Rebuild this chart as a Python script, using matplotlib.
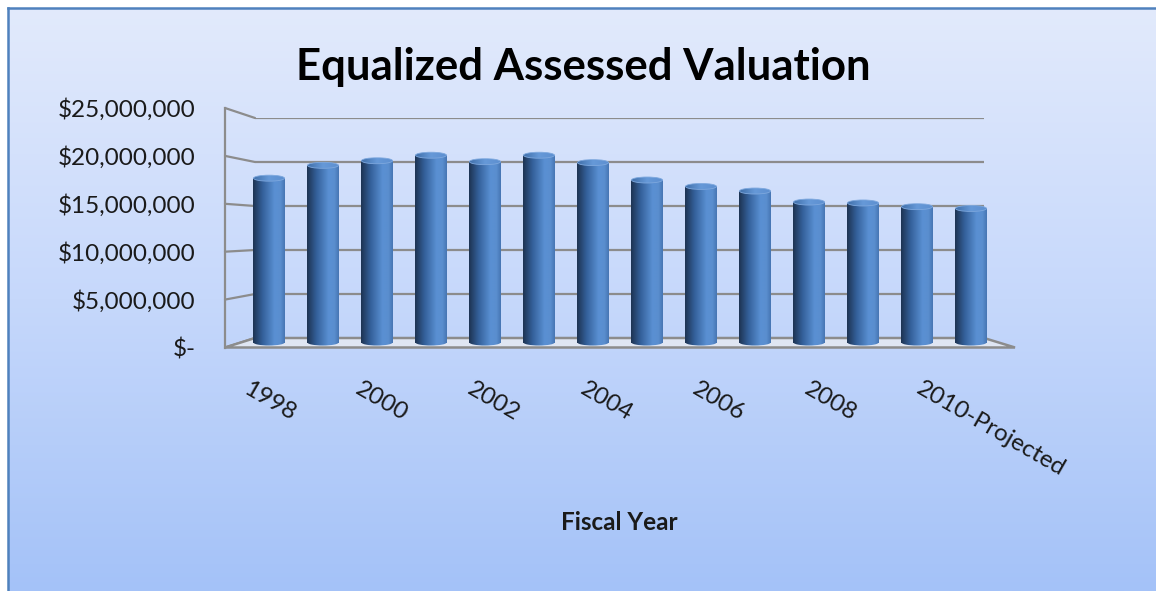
import numpy as np
import matplotlib
matplotlib.use("Agg")
import matplotlib.pyplot as plt
from matplotlib.colors import LinearSegmentedColormap
from matplotlib.patches import Ellipse, Polygon, ConnectionPatch
from matplotlib.transforms import ScaledTranslation

# chart data (in dollars)
years = ["1998", "1999", "2000", "2001", "2002", "2003", "2004", "2005",
         "2006", "2007", "2008", "2009", "2010-Projected", "2011-Projected"]
valuation = [17.9e6, 19.3e6, 19.8e6, 20.4e6, 19.7e6, 20.4e6, 19.6e6,
             17.7e6, 17.0e6, 16.5e6, 15.3e6, 15.2e6, 14.8e6, 14.6e6]
y_ticks = [0, 5e6, 10e6, 15e6, 20e6, 25e6]

W, H = 1156, 591
FONT = "Lato"
GRID = "#8c8c8c"
XMIN, XMAX = -0.537, 13.537
YMAX = 25e6
LABEL_SIZE = 17.5


def px_box(left, top, right, bottom):
    """pixel box (from the top left corner) -> figure fraction rect"""
    return [left / W, 1 - bottom / H, (right - left) / W, (bottom - top) / H]


def money(v):
    return "$-" if v == 0 else f"${v:,.0f}"


fig = plt.figure(figsize=(W / 100, H / 100), dpi=100)
fig.patch.set_facecolor("white")

# background gradient with the blue border on the left and top
bg = fig.add_axes(px_box(8, 8, W, H), zorder=0)
bg_cmap = LinearSegmentedColormap.from_list("bg", ["#e2eafc", "#c6d8fb", "#a4c2f8"])
bg.imshow(np.linspace(0, 1, 256).reshape(-1, 1), cmap=bg_cmap, aspect="auto",
          extent=[0, 1, 0, 1])
bg.set_xticks([])
bg.set_yticks([])
for side in ["right", "bottom"]:
    bg.spines[side].set_visible(False)
for side in ["left", "top"]:
    bg.spines[side].set_color("#4f81bd")
    bg.spines[side].set_linewidth(1.8)

# back wall of the 3d box
back = fig.add_axes(px_box(255, 118, 984, 338), zorder=1)
back.set_xlim(XMIN, XMAX)
back.set_ylim(0, YMAX)
back.axis("off")
for v in y_ticks[1:]:
    back.axhline(v, color=GRID, lw=1.6)

# front plane: carries the tick labels
front = fig.add_axes(px_box(225, 108, 1015, 347.5), zorder=2)
front.set_facecolor("none")
front.set_xlim(XMIN, XMAX)
front.set_ylim(0, YMAX)
for side in ["right", "top", "bottom"]:
    front.spines[side].set_visible(False)
front.spines["left"].set_color(GRID)
front.spines["left"].set_linewidth(1.6)
front.set_yticks(y_ticks, [money(v) for v in y_ticks])
front.tick_params(axis="y", length=0, pad=21, labelsize=LABEL_SIZE, colors="#1a1a1a")
x_pos = np.arange(len(years))
front.set_xticks(x_pos[::2], years[::2])
front.tick_params(axis="x", length=0, pad=22, labelsize=LABEL_SIZE, colors="#1a1a1a")
shift = ScaledTranslation(-5 / 100, 0, fig.dpi_scale_trans)
for lab in front.get_xticklabels():
    lab.set_rotation(-30)
    lab.set_ha("left")
    lab.set_va("top")
    lab.set_rotation_mode("anchor")
    lab.set_transform(lab.get_transform() + shift)
for lab in front.get_xticklabels() + front.get_yticklabels():
    lab.set_fontfamily(FONT)

# left side wall lines and the floor
for v in y_ticks:
    fig.add_artist(ConnectionPatch(xyA=(XMIN, v), coordsA=front.transData,
                                   xyB=(XMIN, v), coordsB=back.transData,
                                   color=GRID, lw=1.6, zorder=1.5))
to_fig = fig.transFigure.inverted()
corners = [front.transData.transform((XMIN, 0)), back.transData.transform((XMIN, 0)),
           back.transData.transform((XMAX, 0)), front.transData.transform((XMAX, 0))]
floor = Polygon(to_fig.transform(corners), closed=True, transform=fig.transFigure,
                facecolor="#dfe6f3", edgecolor=GRID, lw=1.8, zorder=1.5)
fig.add_artist(floor)

# bars sit in the middle of the box depth
mid_bottom = 350
mid = fig.add_axes(px_box(240, 113, 1000, mid_bottom), zorder=3)
mid.set_facecolor("none")
mid.axis("off")
px_per_unit = (342.5 - 113) / YMAX
y_low = -(mid_bottom - 342.5) / px_per_unit
mid.set_autoscale_on(False)
mid.set_xlim(XMIN, XMAX)
mid.set_ylim(y_low, YMAX)

bars = mid.bar(x_pos, valuation, width=0.575, color="none", edgecolor="none")
cap_h = 6 / px_per_unit

body_cmap = LinearSegmentedColormap.from_list(
    "body", [(0, "#1d3352"), (0.3, "#34609a"), (0.68, "#5a90d3"),
             (0.86, "#5a8ecf"), (1, "#4675b3")])
cap_cmap = LinearSegmentedColormap.from_list(
    "cap", [(0, "#3f6ea8"), (0.5, "#6699d8"), (1, "#5d8fd0")])
grad = np.linspace(0, 1, 256).reshape(1, -1)

for bar in bars:
    x0, w, h = bar.get_x(), bar.get_width(), bar.get_height()
    xc = x0 + w / 2
    mid.imshow(grad, cmap=body_cmap, extent=[x0, x0 + w, 0, h], aspect="auto",
               interpolation="bilinear", zorder=3)
    bottom_cap = Ellipse((xc, 0), w, cap_h, transform=mid.transData)
    im = mid.imshow(grad, cmap=body_cmap, extent=[x0, x0 + w, -cap_h / 2, 0],
                    aspect="auto", interpolation="bilinear", zorder=3)
    im.set_clip_path(bottom_cap)
    top_cap = Ellipse((xc, h), w, cap_h, transform=mid.transData)
    im = mid.imshow(grad, cmap=cap_cmap, extent=[x0, x0 + w, h - cap_h / 2, h + cap_h / 2],
                    aspect="auto", interpolation="bilinear", zorder=4)
    im.set_clip_path(top_cap)
    mid.add_patch(Ellipse((xc, h), w, cap_h, facecolor="none", edgecolor="#7ea8de",
                          lw=0.6, zorder=5))

# titles
fig.text(583 / W, 1 - 80 / H, "Equalized Assessed Valuation", ha="center", va="baseline",
         fontsize=31.5, fontweight="bold", fontfamily=FONT, color="black")
fig.text(619 / W, 1 - 522 / H, "Fiscal Year", ha="center", va="center",
         fontsize=LABEL_SIZE, fontweight="bold", fontfamily=FONT, color="#1a1a1a")

fig.savefig("out.png", dpi=100)
plt.close(fig)
